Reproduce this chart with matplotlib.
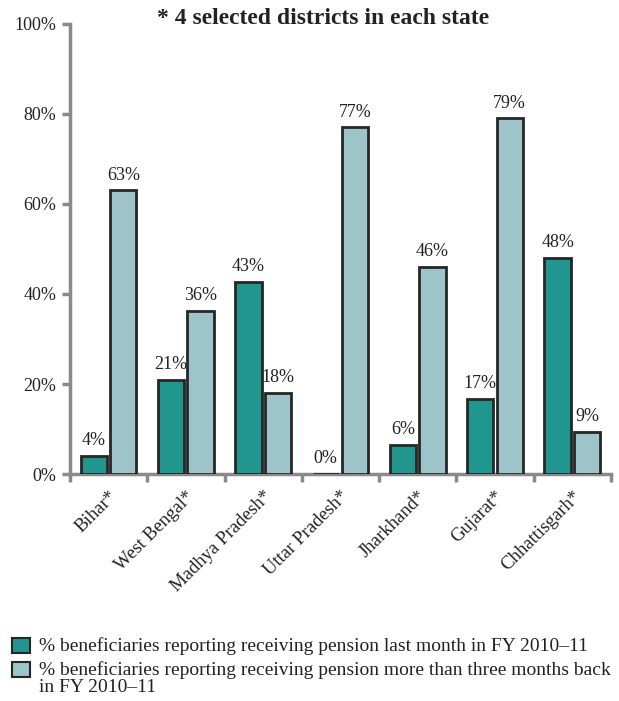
import matplotlib
matplotlib.use("Agg")
import matplotlib.pyplot as plt
from matplotlib.patches import Rectangle
import numpy as np

states = ["Bihar*", "West Bengal*", "Madhya Pradesh*", "Uttar Pradesh*",
          "Jharkhand*", "Gujarat*", "Chhattisgarh*"]
last_month = [4, 21, 42.6, 0, 6.5, 16.7, 48]
three_months = [63, 36.2, 18, 77, 46, 79, 9.3]
series_names = ["% beneficiaries reporting receiving pension last month in FY 2010\u201311",
                "% beneficiaries reporting receiving pension more than three months back\nin FY 2010\u201311"]
yticks = [0, 20, 40, 60, 80, 100]
title = "* 4 selected districts in each state"

dark = "#20968f"
light = "#9dc4c8"
edge = "#262626"
grey = "#8a8a8a"

plt.rcParams['font.family'] = ['Liberation Serif', 'DejaVu Serif']

fig = plt.figure(figsize=(6.19, 7.01), dpi=100)
ax = fig.add_axes([0.113, 0.3238, 0.874, 0.642])

x = np.arange(len(states))
w = 0.34
off = 0.19
b1 = ax.bar(x - off, last_month, w, color=dark, edgecolor=edge, linewidth=2, zorder=3)
b2 = ax.bar(x + off, three_months, w, color=light, edgecolor=edge, linewidth=2, zorder=3)

for bars, vals in ((b1, last_month), (b2, three_months)):
    for r, v in zip(bars, vals):
        ax.annotate(f"{round(v)}%", (r.get_x() + r.get_width() / 2, v),
                    xytext=(0, 5), textcoords="offset points",
                    ha="center", va="bottom", fontsize=13, color="#222222")

ax.set_xlim(-0.5, len(states) - 0.5)
ax.set_ylim(0, 100)
ax.set_yticks(yticks)
ax.set_yticklabels([f"{t}%" for t in yticks], fontsize=13, color="#222222")
ax.set_xticks(np.arange(len(states) + 1) - 0.5)
ax.set_xticklabels([])
ax.set_xticks(x, minor=True)
ax.set_xticklabels(states, minor=True, rotation=45, ha="right", va="top",
                   rotation_mode="anchor", fontsize=13.5, color="#222222")
ax.tick_params(axis="x", which="minor", length=0, pad=10)
ax.tick_params(axis="x", which="major", length=6, width=2.5, color=grey, direction="out")
ax.tick_params(axis="y", length=6, width=2.5, color=grey, direction="out", pad=4)

for s in ("top", "right"):
    ax.spines[s].set_visible(False)
for s in ("left", "bottom"):
    ax.spines[s].set_color(grey)
    ax.spines[s].set_linewidth(2.5)
ax.spines["left"].set_zorder(5)

fig.text(0.522, 0.988, title, ha="center", va="top", fontsize=17,
         fontweight="bold", color="#222222")

# legend drawn manually
leg_y = [0.079, 0.045]
for yy, col, name in zip(leg_y, (dark, light), series_names):
    fig.patches.append(Rectangle((0.019, yy - 0.0105), 0.029, 0.021,
                                 transform=fig.transFigure, facecolor=col,
                                 edgecolor=edge, linewidth=1.5))
    fig.text(0.063, yy + 0.012, name, ha="left", va="top", fontsize=14,
             color="#222222", linespacing=1.0)

fig.savefig("out.png", dpi=100)
